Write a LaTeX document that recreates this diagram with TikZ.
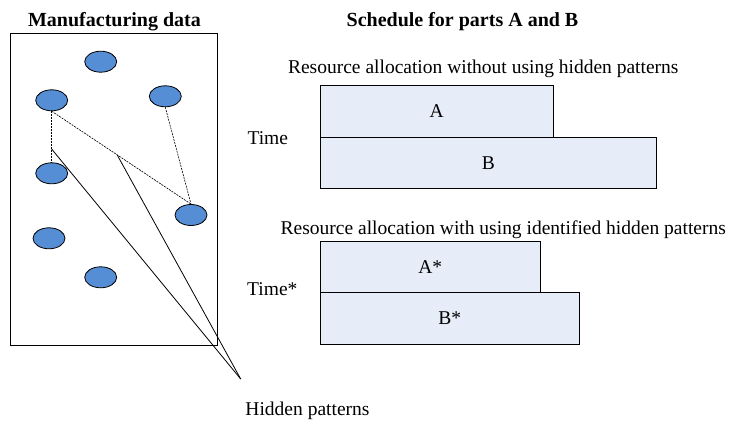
\documentclass[tikz,border=0pt]{standalone}
\usepackage{fontspec}
\setmainfont{Liberation Serif}
\usetikzlibrary{shapes.geometric,calc}
\definecolor{dotblue}{RGB}{85,142,213}
\definecolor{boxblue}{RGB}{230,236,248}
\tikzset{
  dot/.style={ellipse,draw=black,line width=0.8pt,fill=dotblue,minimum width=32pt,minimum height=21pt,inner sep=0pt},
  bar/.style={draw=black,line width=0.8pt,fill=boxblue,inner sep=0pt,font=\fontsize{19.5}{22}\selectfont},
  lbl/.style={inner sep=0pt,anchor=base,font=\fontsize{19.5}{22}\selectfont},
  ttl/.style={inner sep=0pt,anchor=base,font=\fontsize{20}{24}\selectfont\bfseries},
  link/.style={line width=0.6pt,dashed,dash pattern=on 2pt off 1pt},
  pat/.style={line width=0.8pt}
}
\begin{document}
\begin{tikzpicture}[x=1pt,y=-1pt]
\useasboundingbox (0,0) rectangle (732,422);
% titles
\node[ttl] (t1) at (114.5,27) {Manufacturing data};
\node[ttl] (t2) at (462.5,27) {Schedule for parts A and B};
% data frame
\draw[line width=0.8pt] (10,33) rectangle (217,345);
% dots
\node[dot] (e1) at (100.7,61.7) {};
\node[dot] (e2) at (51.7,100.3) {};
\node[dot] (e4) at (165.3,96.3) {};
\node[dot] (e3) at (51.7,173.3) {};
\node[dot] (e5) at (191,215) {};
\node[dot] (e6) at (49,238.3) {};
\node[dot] (e7) at (100.7,277.3) {};
% dashed links
\draw[link] (e2.south) -- (e3.north);
\draw[link] (e2.south) -- (e5.north);
\draw[link] (e4.south) -- (e5.north);
\coordinate (p1) at ($(e2.south)!0.74!(e3.north)$);
\coordinate (p2) at ($(e2.south)!0.47!(e5.north)$);
% hidden patterns
\node[lbl] (hp) at (307.5,416) {Hidden patterns};
\coordinate (hpt) at (240.7,379);
\draw[pat] (p1) -- (hpt);
\draw[pat] (p2) -- (hpt);
% schedules
\node[lbl] (r1) at (483.3,74) {Resource allocation without using hidden patterns};
\node[lbl] (time1) at (267.8,145) {Time};
\node[bar,minimum width=233.3pt,minimum height=52.3pt] (A) at (436.7,111.2) {A};
\node[bar,minimum width=336.7pt,minimum height=51pt] (B) at (488.3,162.8) {B};
\node[lbl] (r2) at (503.3,235) {Resource allocation with using identified hidden patterns};
\node[lbl,anchor=base west] (time2) at (247,295.5) {Time*};
\node[bar,minimum width=220.7pt,minimum height=51pt] (As) at (430.3,267.2) {A*};
\node[bar,minimum width=259.3pt,minimum height=51.6pt] (Bs) at (449.7,318.5) {B*};
\end{tikzpicture}
\end{document}
